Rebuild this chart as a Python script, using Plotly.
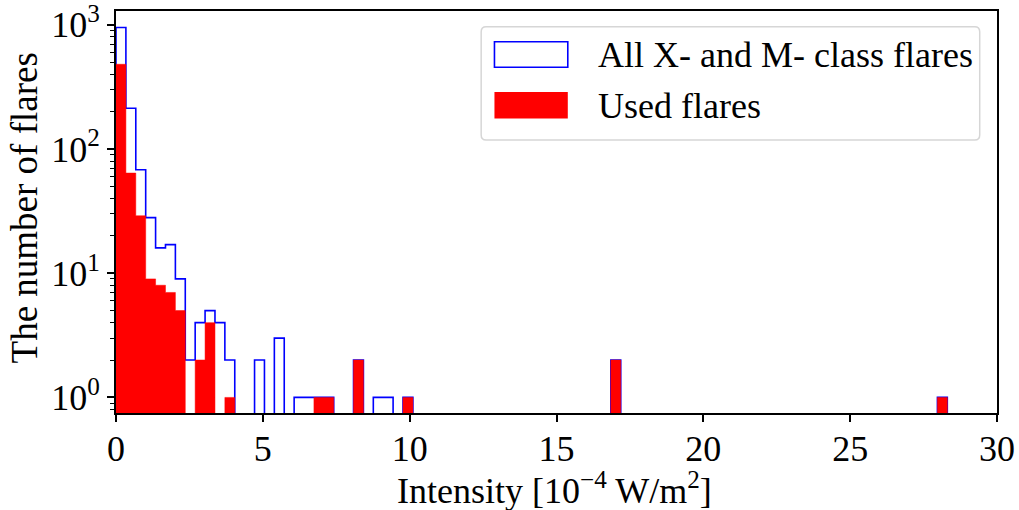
import numpy as np
import plotly.graph_objects as go

# histogram bins (units of 1e-4 W/m^2)
n_bins = 85
bin_width = 0.337
bin_start = 0.0

all_counts = [950, 213, 68, 28, 16, 17, 9, 2, 4, 5, 4, 2, 0, 0, 2, 0, 3, 0, 1, 1,
              1, 1, 0, 0, 2, 0, 1, 1, 0, 1, 0, 0, 0, 0, 0, 0, 0, 0, 0, 0,
              0, 0, 0, 0, 0, 0, 0, 0, 0, 0, 2, 0, 0, 0, 0, 0, 0, 0, 0, 0,
              0, 0, 0, 0, 0, 0, 0, 0, 0, 0, 0, 0, 0, 0, 0, 0, 0, 0, 0, 0,
              0, 0, 0, 1, 0]
used_counts = [481, 64, 29, 9, 8, 7, 5, 0, 2, 4, 0, 1, 0, 0, 0, 0, 0, 0, 0, 0,
               1, 1, 0, 0, 2, 0, 0, 0, 0, 1, 0, 0, 0, 0, 0, 0, 0, 0, 0, 0,
               0, 0, 0, 0, 0, 0, 0, 0, 0, 0, 2, 0, 0, 0, 0, 0, 0, 0, 0, 0,
               0, 0, 0, 0, 0, 0, 0, 0, 0, 0, 0, 0, 0, 0, 0, 0, 0, 0, 0, 0,
               0, 0, 0, 1, 0]

series_names = ["All X- and M- class flares", "Used flares"]
x_ticks = [0, 5, 10, 15, 20, 25, 30]
y_ticks = [1, 10, 100, 1000]
y_tick_labels = ["10<sup>0</sup>", "10<sup>1</sup>", "10<sup>2</sup>", "10<sup>3</sup>"]
x_title = "Intensity [10<sup>\u22124</sup> W/m<sup>2</sup>]"
y_title = "The number of flares"

edges = bin_start + bin_width * np.arange(n_bins + 1)
BASE = 1e-3

W, H = 1019, 510
L, R, T, B = 115.5, 997.3, 11.0, 413.3   # plot area in pixels


def step_path(counts):
    xs, ys = [edges[0]], [BASE]
    for i, c in enumerate(counts):
        v = c if c > 0 else BASE
        xs += [edges[i], edges[i + 1]]
        ys += [v, v]
    xs.append(edges[-1])
    ys.append(BASE)
    return xs, ys


def px(x):
    return (x - L) / (R - L)


def py(y):
    return 1 - (y - T) / (B - T)


ax, ay = step_path(all_counts)
ux, uy = step_path(used_counts)

FONT = "Liberation Serif, Times New Roman, serif"
FS = 36

fig = go.Figure()
fig.add_trace(go.Scatter(x=ax, y=ay, mode="lines",
                         line=dict(color="#0000ff", width=1.6),
                         name=series_names[0], cliponaxis=True, showlegend=False,
                         hoverinfo="skip"))
fig.add_trace(go.Scatter(x=ux, y=uy, mode="lines", fill="toself",
                         fillcolor="#ff0000",
                         line=dict(color="#ff0000", width=0.5),
                         name=series_names[1], cliponaxis=True, showlegend=False,
                         hoverinfo="skip"))

minor_y = [m * 10 ** d for d in range(-1, 4) for m in range(2, 10)]

# legend drawn manually (matplotlib style patches)
lx0, lx1, ly0, ly1, rad = 481, 980, 26.7, 140, 5
rx = rad / (R - L)
ry = rad / (B - T)
X0, X1, Y0, Y1 = px(lx0), px(lx1), py(ly1), py(ly0)
legend_path = (f"M{X0+rx},{Y0} L{X1-rx},{Y0} Q{X1},{Y0} {X1},{Y0+ry} "
               f"L{X1},{Y1-ry} Q{X1},{Y1} {X1-rx},{Y1} L{X0+rx},{Y1} "
               f"Q{X0},{Y1} {X0},{Y1-ry} L{X0},{Y0+ry} Q{X0},{Y0} {X0+rx},{Y0} Z")
shapes = [
    dict(type="path", xref="paper", yref="paper", path=legend_path,
         line=dict(color="#d6d6d6", width=1.5), fillcolor="rgba(255,255,255,0.8)",
         layer="above"),
    dict(type="rect", xref="paper", yref="paper",
         x0=px(494.3), x1=px(567.7), y0=py(67.3), y1=py(41.7),
         line=dict(color="#0000ff", width=1.6), fillcolor="rgba(0,0,0,0)",
         layer="above"),
    dict(type="rect", xref="paper", yref="paper",
         x0=px(494.3), x1=px(567.7), y0=py(118.7), y1=py(92),
         line=dict(color="#ff0000", width=0), fillcolor="#ff0000",
         layer="above"),
]
annotations = [
    dict(text=series_names[0], xref="paper", yref="paper", x=px(596), y=py(55),
         xanchor="left", yanchor="middle", showarrow=False,
         font=dict(family=FONT, size=FS, color="black")),
    dict(text=series_names[1], xref="paper", yref="paper", x=px(596), y=py(106),
         xanchor="left", yanchor="middle", showarrow=False,
         font=dict(family=FONT, size=FS, color="black")),
    dict(text=x_title, xref="paper", yref="paper", x=px(554), y=py(489),
         xanchor="center", yanchor="middle", showarrow=False,
         font=dict(family=FONT, size=FS, color="black")),
    dict(text=y_title, xref="paper", yref="paper", x=px(24), y=py(208),
         xanchor="center", yanchor="middle", showarrow=False, textangle=-90,
         font=dict(family=FONT, size=37, color="black")),
]

fig.update_layout(
    width=W, height=H,
    margin=dict(l=L, r=W - R, t=T, b=H - B, autoexpand=False),
    plot_bgcolor="white", paper_bgcolor="white",
    font=dict(family=FONT, size=FS, color="black"),
    showlegend=False,
    hovermode=False,
    shapes=shapes,
    annotations=annotations,
    xaxis=dict(range=[0, 30], tickmode="array", tickvals=x_ticks,
               ticks="outside", ticklen=7, tickwidth=1.5, tickcolor="black",
               showline=True, linecolor="black", linewidth=2, mirror=True,
               showgrid=False, zeroline=False, automargin=False,
               ticklabelstandoff=-4,
               tickfont=dict(family=FONT, size=FS)),
    yaxis=dict(type="log", range=[-0.1255, 3.111], tickmode="array",
               tickvals=y_ticks, ticktext=y_tick_labels,
               ticks="outside", ticklen=7, tickwidth=1.5, tickcolor="black",
               showline=True, linecolor="black", linewidth=2, mirror=True,
               showgrid=False, zeroline=False, automargin=False,
               minor=dict(tickmode="array", tickvals=minor_y, ticks="outside",
                          ticklen=4, tickwidth=1.2, tickcolor="black",
                          showgrid=False),
               tickfont=dict(family=FONT, size=FS)),
)

fig.write_html("out.html",
               config={"displayModeBar": False},
               post_script="document.body.style.margin='0';"
                           "document.body.style.overflow='hidden';")
